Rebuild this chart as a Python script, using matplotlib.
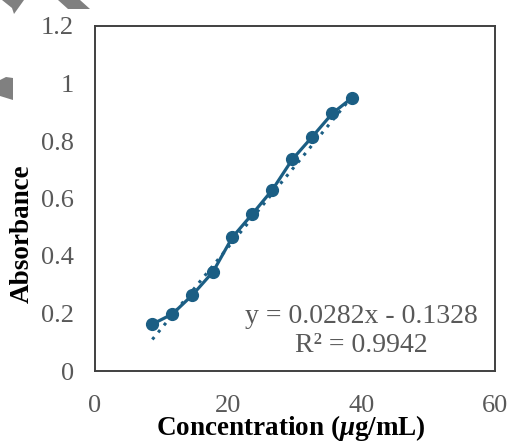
import matplotlib
matplotlib.use("Agg")
import matplotlib.pyplot as plt
from matplotlib.patches import Polygon
import numpy as np

# Data
concentration = [8.6, 11.6, 14.6, 17.7, 20.6, 23.6, 26.6, 29.6, 32.6, 35.6, 38.6]
absorbance = [0.163, 0.198, 0.264, 0.345, 0.465, 0.546, 0.630, 0.736, 0.815, 0.896, 0.951]
slope = 0.0282
intercept = -0.1328
r_squared = 0.9942
x_ticks = [0, 20, 40, 60]
y_ticks = [0, 0.2, 0.4, 0.6, 0.8, 1, 1.2]
y_tick_labels = ["0", "0.2", "0.4", "0.6", "0.8", "1", "1.2"]

plt.rcParams["mathtext.fontset"] = "custom"
plt.rcParams["mathtext.rm"] = "Liberation Serif"
plt.rcParams["mathtext.it"] = "Liberation Serif:italic:bold"
plt.rcParams["mathtext.bf"] = "Liberation Serif:bold"

W, H = 510, 441
fig = plt.figure(figsize=(W / 100, H / 100), dpi=100)
ax = fig.add_axes([95 / W, 1 - 371 / H, 400 / W, 345 / H])

color = "#1b5e84"
serif = ["Liberation Serif", "DejaVu Serif"]

ax.plot(concentration, absorbance, "-o", color=color, lw=2.3, ms=8.5, zorder=3)
xs = np.array([concentration[0], concentration[-1]])
ax.plot(xs, slope * xs + intercept, linestyle=(0, (1, 2)), color=color, lw=2.2, zorder=2)

ax.set_xlim(0, 60)
ax.set_ylim(0, 1.2)
ax.set_xticks(x_ticks)
ax.set_xticklabels([str(t) for t in x_ticks])
ax.set_yticks(y_ticks)
ax.set_yticklabels(y_tick_labels)
ax.tick_params(length=0, labelsize=19, colors="#595959")
ax.tick_params(axis="y", pad=15)
ax.tick_params(axis="x", pad=17)
for lab in ax.get_xticklabels() + ax.get_yticklabels():
    lab.set_family(serif)
for s in ax.spines.values():
    s.set_color("#404040")
    s.set_linewidth(1.4)

ax.set_xlabel("Concentration ($\\mu$g/mL)", fontsize=19.5, fontweight="bold",
              family=serif)
ax.set_ylabel("Absorbance", fontsize=19.5, fontweight="bold", family=serif)
ax.xaxis.set_label_coords(0.49, -0.122)
ax.yaxis.set_label_coords(-0.15, 0.397)

ax.text(0.667, 0.116, f"y = {slope}x - {abs(intercept)}\nR² = {r_squared}",
        transform=ax.transAxes, ha="center", va="center", fontsize=20,
        color="#595959", family=serif, linespacing=1.2)

# gray decorative fragments at top-left
def px(pts):
    return [(x / W, 1 - y / H) for x, y in pts]
for pts in [
    [(2, 0), (24, 0), (14, 14), (12, 8)],
    [(58, 0), (80, 0), (90, 9), (68, 9)],
    [(0, 80), (6, 77), (13, 78), (13, 100), (0, 96)],
]:
    fig.patches.append(Polygon(px(pts), closed=True, transform=fig.transFigure,
                               facecolor="#808080", edgecolor="none"))

fig.savefig("out.png", dpi=100)
